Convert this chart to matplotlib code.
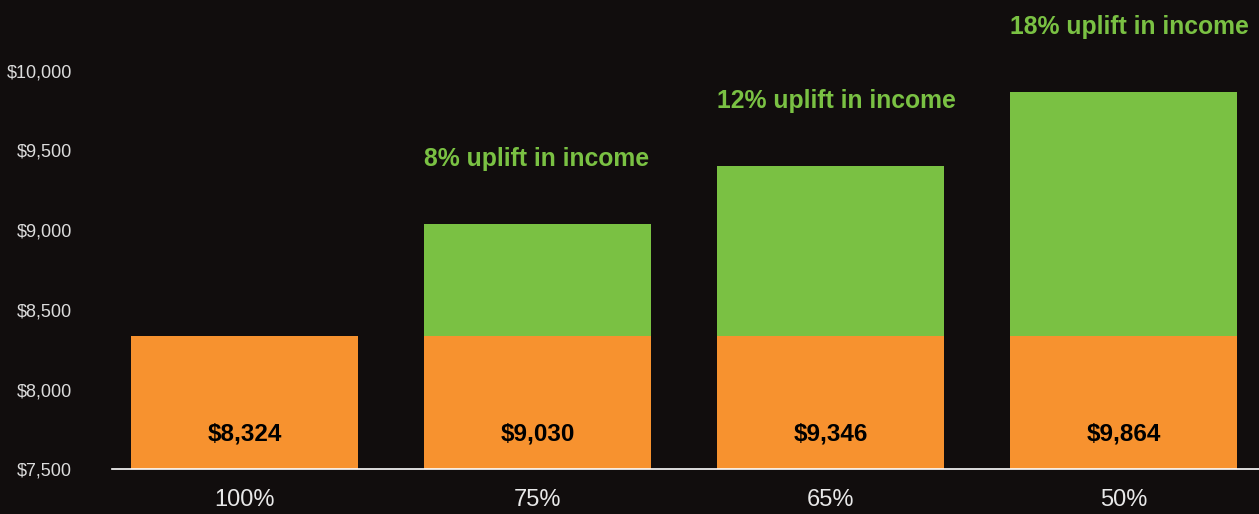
import matplotlib
matplotlib.use("Agg")
import matplotlib.pyplot as plt
from matplotlib.ticker import FuncFormatter

# ---- data ----
categories = ["100%", "75%", "65%", "50%"]
base_income = [8335, 8335, 8335, 8335]
bar_totals = [8335, 9038, 9400, 9864]
value_labels = ["$8,324", "$9,030", "$9,346", "$9,864"]
uplift_labels = ["", "8% uplift in income", "12% uplift in income", "18% uplift in income"]
y_ticks = [7500, 8000, 8500, 9000, 9500, 10000]

# ---- style ----
BG = "#110d0d"
ORANGE = "#F7922F"
GREEN = "#7AC143"
FONT = ["Liberation Sans", "DejaVu Sans"]

plt.rcParams["font.family"] = FONT

fig = plt.figure(figsize=(12.59, 5.14), dpi=100, facecolor=BG)
ax = fig.add_axes([0.089, 0.0866, 0.911, 0.9134])
ax.set_facecolor(BG)

x = list(range(len(categories)))
width = 0.775
uplift = [t - b for t, b in zip(bar_totals, base_income)]

ax.bar(x, base_income, width=width, color=ORANGE, bottom=0, zorder=2)
ax.bar(x, uplift, width=width, bottom=base_income, color=GREEN, zorder=2)

ax.set_xlim(-0.452, 3.462)
ax.set_ylim(7500, 10442)

# value labels inside orange bars
for xi, lab in zip(x, value_labels):
    ax.text(xi, 7722, lab, ha="center", va="center", fontsize=17.5,
            fontweight="bold", color="#000000", zorder=3)

# uplift annotations
for xi, top, lab in zip(x, bar_totals, uplift_labels):
    if not lab:
        continue
    ax.annotate(lab, xy=(xi - width / 2, top), xytext=(0, 65),
                textcoords="offset pixels", ha="left", va="center",
                fontsize=17.8, fontweight="bold", color=GREEN, zorder=3)

ax.set_xticks(x)
ax.set_xticklabels(categories)
ax.set_yticks(y_ticks)
ax.yaxis.set_major_formatter(FuncFormatter(lambda v, p: f"${v:,.0f}"))

ax.tick_params(axis="y", length=0, pad=29, labelsize=13, labelcolor="#dcdcdc")
ax.tick_params(axis="x", length=0, pad=14, labelsize=17, labelcolor="#e8e8e8")

for s in ["top", "right", "left"]:
    ax.spines[s].set_visible(False)
ax.spines["bottom"].set_color("white")
ax.spines["bottom"].set_linewidth(1.2)
ax.spines["bottom"].set_zorder(4)

fig.savefig("out.png", dpi=100, facecolor=BG)
